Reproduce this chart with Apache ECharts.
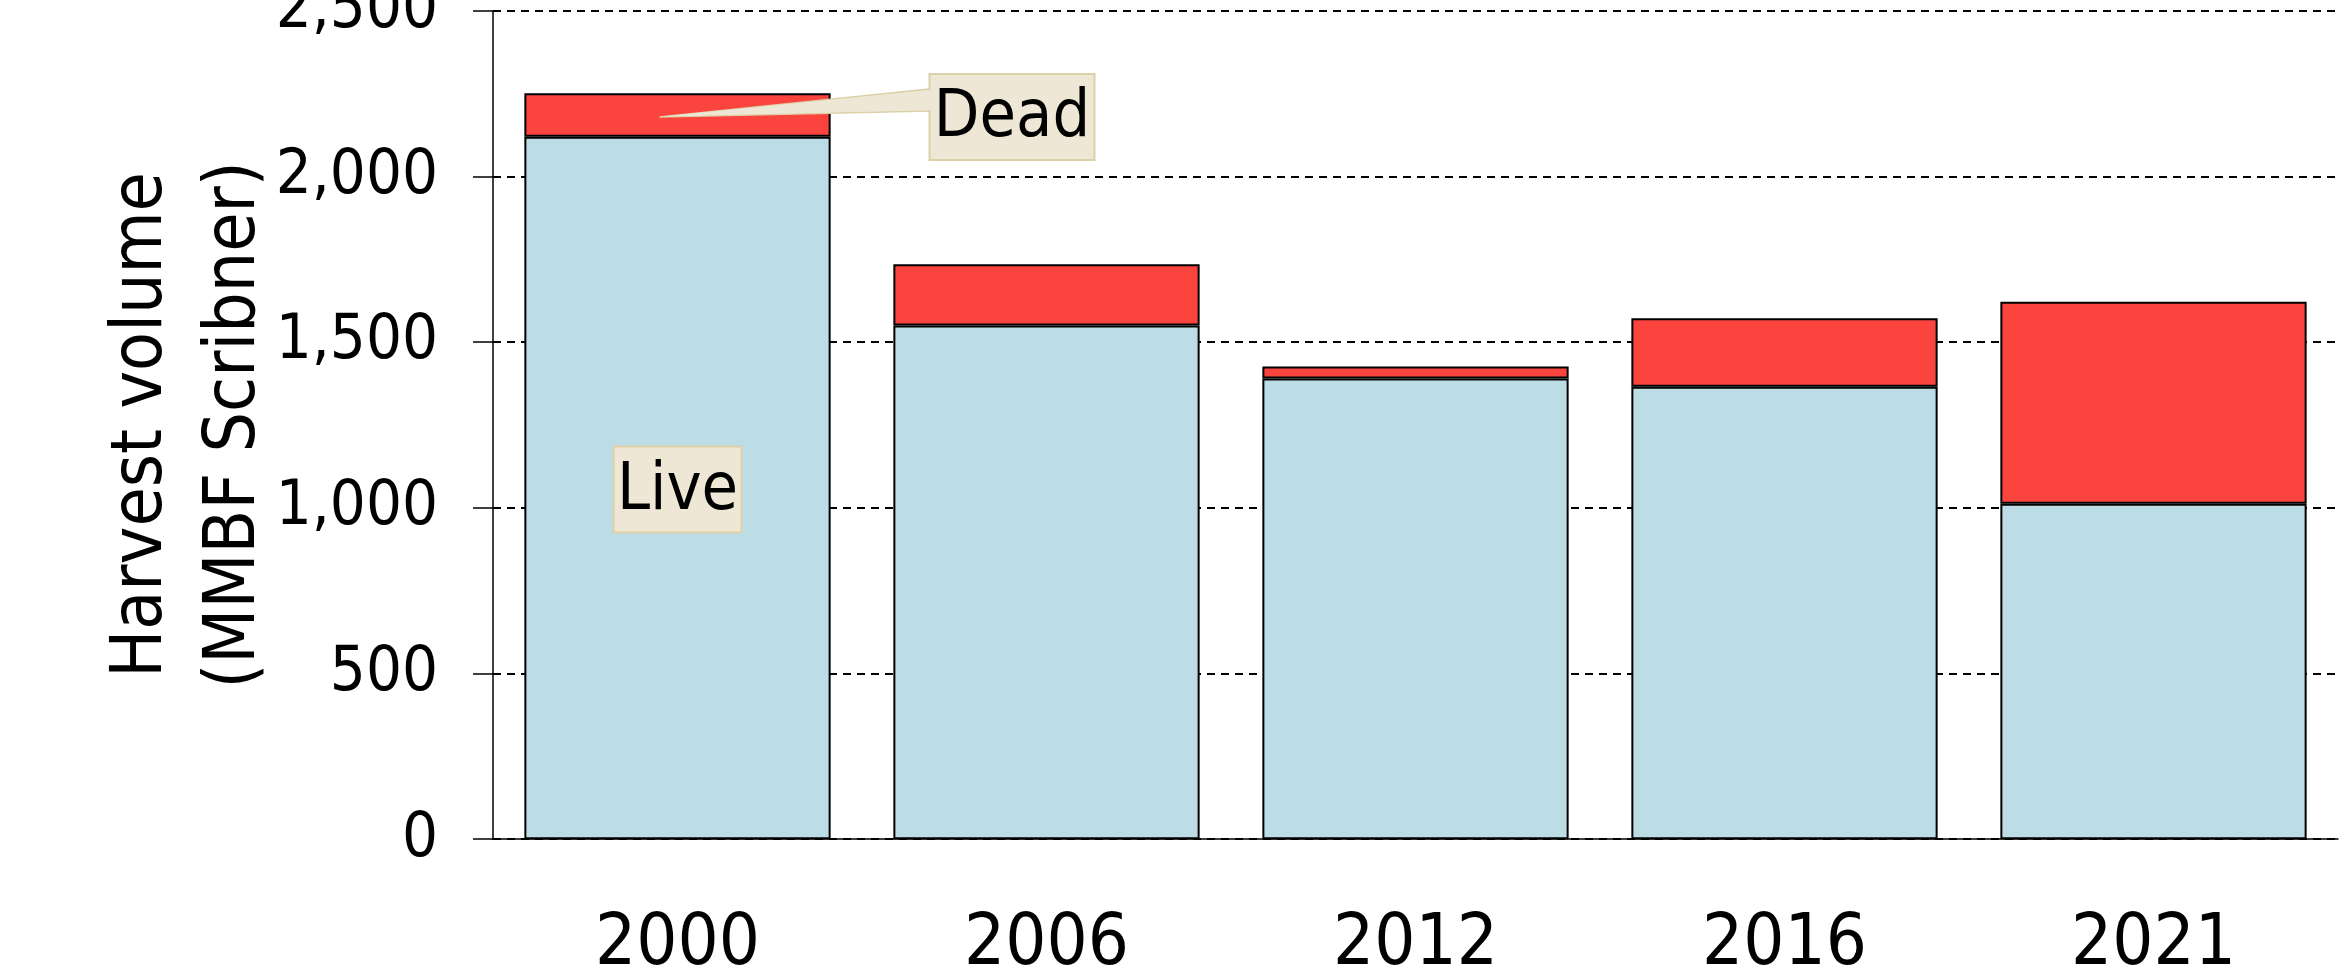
<!DOCTYPE html>
<html>
<head>
<meta charset="utf-8">
<script src="https://cdn.jsdelivr.net/npm/echarts@6/dist/echarts.min.js"></script>
<style>
  html, body { margin: 0; padding: 0; background: #fff; }
  #main { width: 2344px; height: 968px; }
</style>
</head>
<body>
<div id="main"></div>
<script>
// harvest volume, MMBF Scribner
var years = ['2000', '2006', '2012', '2016', '2021'];
var liveVolume = [2120, 1550, 1390, 1365, 1012];
var deadVolume = [131, 185, 36, 207, 610];
var yTicks = [0, 500, 1000, 1500, 2000, 2500];

var FONT = "'DejaVu Sans Condensed', 'DejaVu Sans', sans-serif";
var boxFill = '#EEE7D5', boxStroke = '#DDD0A9';

var chart = echarts.init(document.getElementById('main'));
var option = {
    animation: false,
    grid: { left: 493, right: 6, top: 10.7, bottom: 128.8, containLabel: false, outerBoundsMode: 'none' },
    xAxis: {
        type: 'category',
        data: years,
        axisLine: { lineStyle: { color: '#000', width: 1.5 } },
        axisTick: { show: false },
        axisLabel: { color: '#000', fontFamily: FONT, fontSize: 72, margin: 70 }
    },
    yAxis: {
        type: 'value',
        min: yTicks[0],
        max: yTicks[yTicks.length - 1],
        interval: yTicks[1] - yTicks[0],
        name: 'Harvest volume\n(MMBF Scribner)',
        nameLocation: 'middle',
        nameGap: 211,
        nameMoveOverlap: false,
        nameTextStyle: { color: '#000', fontFamily: FONT, fontSize: 71, lineHeight: 93 },
        axisLine: { show: true, lineStyle: { color: '#000', width: 1.5 } },
        axisTick: { show: true, length: 20, lineStyle: { color: '#000', width: 1.5 } },
        axisLabel: { color: '#000', fontFamily: FONT, fontSize: 63, margin: 55 },
        splitLine: { lineStyle: { color: '#000', width: 2, type: [8, 6] } }
    },
    series: [
        {
            name: 'Live',
            type: 'bar',
            stack: 'total',
            barWidth: '83%',
            itemStyle: { color: '#BCDDE5', borderColor: '#000', borderWidth: 2 },
            data: liveVolume
        },
        {
            name: 'Dead',
            type: 'bar',
            stack: 'total',
            itemStyle: { color: '#FA443D', borderColor: '#000', borderWidth: 2 },
            data: deadVolume
        }
    ]
};
chart.setOption(option);

// callout labels, placed off the 2000 bar
var livePt = chart.convertToPixel({ xAxisIndex: 0, yAxisIndex: 0 }, [years[0], 1055]);
var tip = chart.convertToPixel({ xAxisIndex: 0, yAxisIndex: 0 }, [years[0], liveVolume[0] + deadVolume[0] / 2 - 6]);
tip[0] -= 18;
var deadBox = { x: tip[0] + 270, y: tip[1] - 43, w: 165, h: 86 };

chart.setOption({
    graphic: [
        {
            type: 'polygon',
            z: 100,
            shape: { points: [[tip[0], tip[1]], [deadBox.x + 1, tip[1] - 28], [deadBox.x + 1, tip[1] - 6]] },
            style: { fill: boxFill, stroke: boxStroke, lineWidth: 1.5 }
        },
        {
            type: 'rect',
            z: 100,
            shape: { x: deadBox.x, y: deadBox.y, width: deadBox.w, height: deadBox.h },
            style: { fill: boxFill, stroke: boxStroke, lineWidth: 2 }
        },
        {
            type: 'polygon',
            z: 101,
            shape: { points: [[tip[0] + 2, tip[1] - 0.5], [deadBox.x + 2, tip[1] - 27], [deadBox.x + 2, tip[1] - 7]] },
            style: { fill: boxFill }
        },
        {
            type: 'text',
            z: 102,
            x: deadBox.x + deadBox.w / 2,
            y: deadBox.y + deadBox.h / 2 + 2,
            style: { text: 'Dead', font: "66px " + FONT, fill: '#000', align: 'center', verticalAlign: 'middle' }
        },
        {
            type: 'rect',
            z: 100,
            shape: { x: livePt[0] - 64, y: livePt[1] - 43, width: 128, height: 86 },
            style: { fill: boxFill, stroke: boxStroke, lineWidth: 2 }
        },
        {
            type: 'text',
            z: 102,
            x: livePt[0],
            y: livePt[1] + 2,
            style: { text: 'Live', font: "66px " + FONT, fill: '#000', align: 'center', verticalAlign: 'middle' }
        }
    ]
});
</script>
</body>
</html>
